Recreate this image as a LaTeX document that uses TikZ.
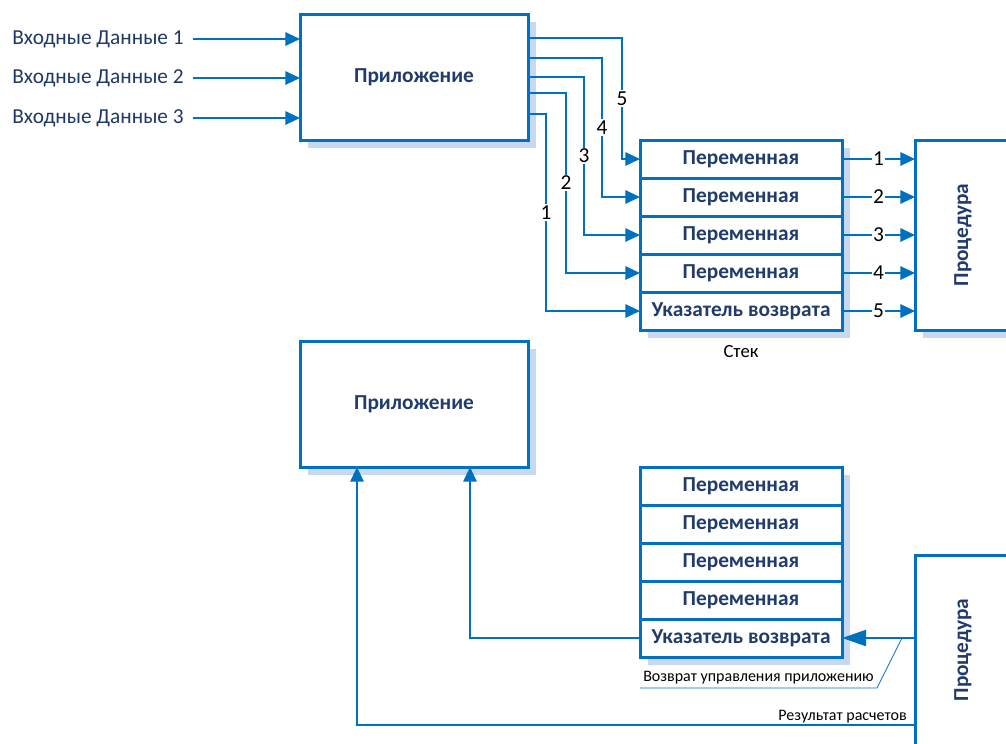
\documentclass[tikz,border=0pt]{standalone}
\usepackage{fontspec}
\usepackage{graphicx}
\setmainfont{Carlito}
\usetikzlibrary{arrows.meta,positioning,calc,shadows}
\definecolor{lineblue}{RGB}{0,112,192}
\definecolor{shadeblue}{RGB}{198,217,240}
\definecolor{textblue}{RGB}{33,60,108}
\definecolor{inkblue}{RGB}{31,56,100}
\tikzset{
  box/.style={draw=lineblue, line width=2.25pt, fill=white, outer sep=0pt,
    text=textblue, font=\bfseries\fontsize{16}{18}\selectfont,
    drop shadow={shadow xshift=6pt, shadow yshift=-6pt, fill=shadeblue, opacity=1}},
  appbox/.style={box, minimum width=171pt, minimum height=94.5pt},
  procbox/.style={box, minimum width=72pt, minimum height=142.5pt},
  cell/.style={box, minimum width=151.5pt, minimum height=28.5pt, inner sep=0pt},
  conn/.style={draw=lineblue, line width=1.5pt, -{Triangle[length=11pt,width=10pt]}},
  bigtip/.style={-{Triangle[length=18pt,width=12pt]}},
  callout/.style={draw=lineblue, line width=0.6pt},
  num/.style={fill=white, inner sep=1pt, text=black, font=\fontsize{16}{18}\selectfont},
  inlabel/.style={inner sep=0pt, text=inkblue, font=\fontsize{16}{18}\selectfont},
  small/.style={inner sep=0pt, text=black, font=\fontsize{12}{14}\selectfont}
}
\begin{document}
\begin{tikzpicture}[x=0.75pt,y=-0.75pt]
  \useasboundingbox (0,0) rectangle (1006,743);
  \clip (0,0) rectangle (1006,743);
  % upper part: the call
  \node[appbox] (app1) at (414,77) {Приложение};
  \node[cell] (r1) at (741,159) {Переменная};
  \node[cell, below=0pt of r1] (r2) {Переменная};
  \node[cell, below=0pt of r2] (r3) {Переменная};
  \node[cell, below=0pt of r3] (r4) {Переменная};
  \node[cell, below=0pt of r4] (r5) {Указатель возврата};
  \node[small, font=\fontsize{14}{16}\selectfont, below=11pt of r5] (stack) {Стек};
  \node[procbox] (proc1) at (963,235) {\rotatebox{90}{Процедура}};
  \foreach \k/\dy in {1/25, 2/64, 3/104} {
    \node[inlabel, anchor=east] (in\k) at ($(app1.north west)+(-116,\dy)$) {Входные Данные \k};
    \draw[conn, shorten <=7pt] (in\k.east) -- (app1.west |- in\k.east);
  }
  \foreach \r/\n/\dx/\dy in {1/5/18/24, 2/4/38/44, 3/3/56/63, 4/2/74/79, 5/1/94/100}
    \draw[conn] ($(app1.north east)+(0,\dy)$) -| node[num, pos=0.75] {\n} ($(r\r.west)+(-\dx,0)$) -- (r\r.west);
  \foreach \r in {1,...,5}
    \draw[conn] (r\r.east) -- node[num] {\r} (proc1.west |- r\r.east);
  % lower part: the return
  \node[appbox] (app2) at (414,404) {Приложение};
  \node[cell] (s1) at (741,486) {Переменная};
  \node[cell, below=0pt of s1] (s2) {Переменная};
  \node[cell, below=0pt of s2] (s3) {Переменная};
  \node[cell, below=0pt of s3] (s4) {Переменная};
  \node[cell, below=0pt of s4] (s5) {Указатель возврата};
  \node[procbox] (proc2) at (963,650) {\rotatebox{90}{Процедура}};
  \coordinate (ret) at (proc2.west |- s5.east);
  \coordinate (tip) at ($(ret)+(-13,0)$);
  \coordinate (res) at ($(proc2.north west)+(0,170)$);
  \draw[conn, bigtip] (ret) -- (s5.east);
  \draw[conn] (s5.west) -| ($(app2.south west)+(170,0)$);
  \draw[conn] (res) -| ($(app2.south west)+(57,0)$);
  \node[small, anchor=south east] (reslabel) at ($(res)+(-8,-2)$) {Результат расчетов};
  \draw[callout] (tip) -- ++(-25,50) -- ++(-237,0)
    node[small, midway, above=3pt] (retlabel) {Возврат управления приложению};
\end{tikzpicture}
\end{document}
